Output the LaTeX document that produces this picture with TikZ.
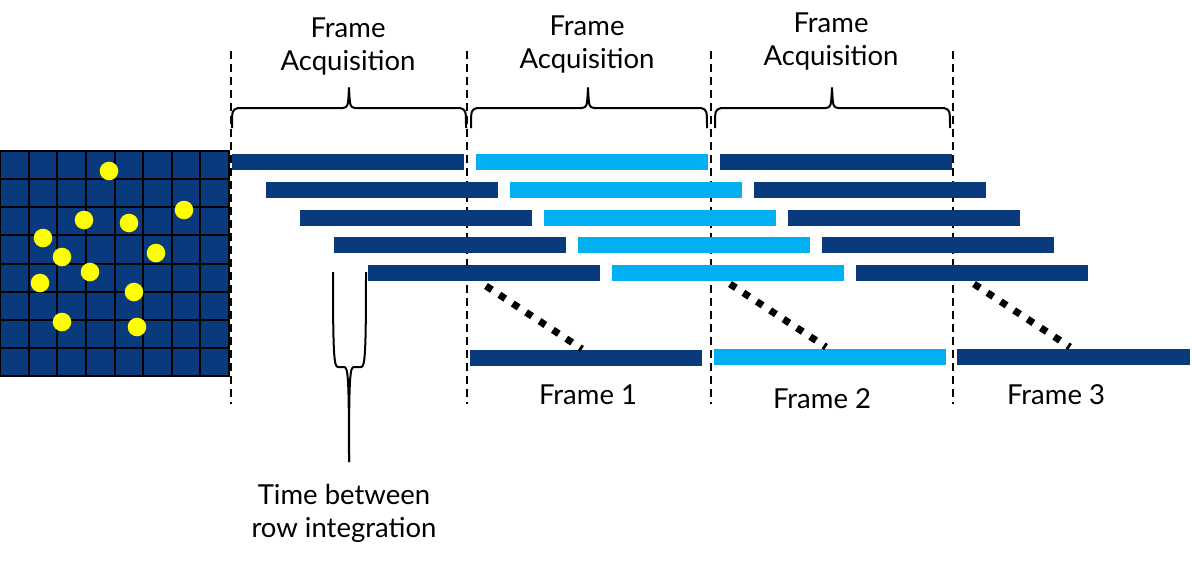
\documentclass[tikz,border=0pt]{standalone}
\usepackage{fontspec}
\setmainfont{Lato}
\definecolor{rowdark}{HTML}{0A3A7E}
\definecolor{rowlight}{HTML}{00B0F0}
\definecolor{spot}{HTML}{FFFF00}
\tikzset{
  lbl/.style={align=center,font=\fontsize{27.5}{33}\selectfont},
  bounds/.style={line width=2.2pt,dash pattern=on 8pt off 5pt},
  brc/.style={line width=2pt,line join=round}
}
\begin{document}
\begin{tikzpicture}[x=1pt,y=-1pt]
\useasboundingbox (0,0) rectangle (1192,563);
% sensor grid with spots
\fill[rowdark] (0,151) rectangle (229,376);
\foreach \k in {1,...,7} {
  \draw[line width=2pt] ({28.625*\k},151) -- ({28.625*\k},376);
  \draw[line width=2pt] (0,{151+28.125*\k}) -- (229,{151+28.125*\k});
}
\draw[line width=2pt] (0,151) rectangle (229,376);
\foreach \x/\y in {109/171,184/210,84/220,129/223,43/238,156/253,62/257,90/272,40/283,134/292,62/322,137/327}
  \fill[spot] (\x,\y) circle (9.3);
% frame boundaries
\foreach \x in {231,467,711,953}
  \draw[bounds] (\x,51) -- (\x,404);
% acquisition braces
\foreach \l/\r/\m in {232/466/349,471/707/588,715/950/832}
  \draw[brc] (\l,128) .. controls (\l,110) .. ({\l+6},108) -- ({\m-6},108)
    .. controls ({\m-1},107) .. (\m,88) .. controls ({\m+1},107) .. ({\m+6},108)
    -- ({\r-6},108) .. controls (\r,110) .. (\r,128);
\node[lbl] (acq1) at (348,47) {Frame\\Acquisition};
\node[lbl] (acq2) at (587,45) {Frame\\Acquisition};
\node[lbl] (acq3) at (831,42) {Frame\\Acquisition};
% row integration bars
\foreach \i in {0,...,4} {
  \fill[rowdark] ({232+34*\i},{154+27.75*\i}) rectangle ++(232,16);
  \fill[rowlight] ({476+34*\i},{154+27.75*\i}) rectangle ++(232,16);
  \fill[rowdark] ({720+34*\i},{154+27.75*\i}) rectangle ++(232,16);
}
% read out frames
\fill[rowdark] (470,350) rectangle ++(232,16);
\fill[rowlight] (714,349) rectangle ++(232,16);
\fill[rowdark] (957,349) rectangle ++(233,16);
\foreach \x/\y in {486/286,730/284,974/284}
  \draw[line width=7pt,dash pattern=on 7pt off 9pt] (\x,\y) -- ({\x+96},{\y+63});
\node[lbl] (f1) at (588,395) {Frame 1};
\node[lbl] (f2) at (822,399) {Frame 2};
\node[lbl] (f3) at (1056,395) {Frame 3};
% time between rows
\draw[brc] (333,272) .. controls (333,355) and (334,367) .. (338,367) -- (344,367)
  .. controls (348,367) and (349,375) .. (349,462);
\draw[brc] (366,272) .. controls (366,355) and (365,367) .. (361,367) -- (354,367)
  .. controls (350,367) and (349,375) .. (349,462);
\node[lbl] (tb) at (344,513) {Time between\\row integration};
\end{tikzpicture}
\end{document}
